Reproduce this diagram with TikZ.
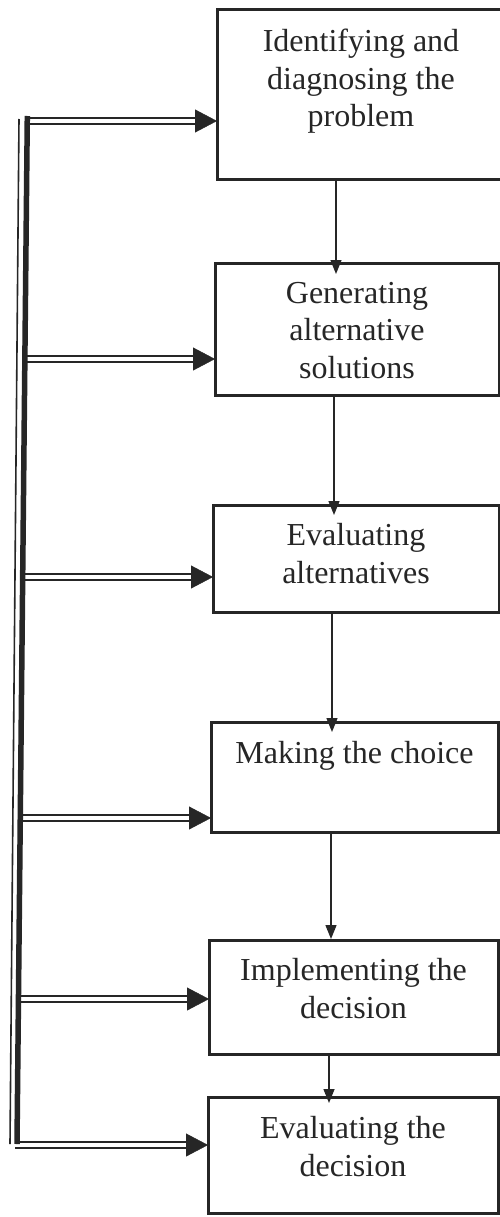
\documentclass[tikz,border=0pt]{standalone}
\usepackage{fontspec}
\setmainfont{Liberation Serif}
\usetikzlibrary{arrows.meta,calc}
\definecolor{ink}{gray}{0.15}
\begin{document}
\begin{tikzpicture}[x=1pt,y=-1pt,
  box/.style={draw=ink, line width=3pt, inner sep=0pt, outer sep=0pt},
  txt/.style={text=ink, font=\fontsize{32}{37.5}\selectfont, align=center, inner sep=0pt},
  varrow/.style={draw=ink, line width=1.4pt, -{Triangle[length=14pt,width=11pt]}},
  dbl/.style={draw=ink, double=white, double distance=3.5pt, line width=1.9pt},
  tipar/.style={draw=ink, fill=ink, line width=0.4pt, -{Triangle[length=22pt,width=23pt]}},
  spinethin/.style={draw=ink, line width=1.6pt},
  spinethick/.style={draw=ink, line width=5.5pt}]
\useasboundingbox (0,0) rectangle (499,1217);
\fill[white] (0,0) rectangle (499,1217);
% boxes
\node[box, minimum width=286pt, minimum height=170pt] (b1) at (360,95) {};
\node[box, minimum width=284pt, minimum height=132pt] (b2) at (357,329) {};
\node[box, minimum width=286pt, minimum height=107pt] (b3) at (356,558.5) {};
\node[box, minimum width=287pt, minimum height=110pt] (b4) at (354.5,777) {};
\node[box, minimum width=289pt, minimum height=114pt] (b5) at (353.5,997) {};
\node[box, minimum width=290pt, minimum height=116pt] (b6) at (353,1155) {};
% texts (base = baseline of the last line)
\node[txt, anchor=base] (t1) at ($(b1.north)+(1,117)$) {Identifying and\\diagnosing the\\problem};
\node[txt, anchor=base] (t2) at ($(b2.north)+(0,115)$) {Generating\\alternative\\solutions};
\node[txt, anchor=base] (t3) at ($(b3.north)+(0,78)$) {Evaluating\\alternatives};
\node[txt, anchor=base] (t4) at ($(b4.north)+(0,41)$) {Making the choice};
\node[txt, anchor=base] (t5) at ($(b5.north)+(0,78)$) {Implementing the\\decision};
\node[txt, anchor=base] (t6) at ($(b6.north)+(0,79)$) {Evaluating the\\decision};
% vertical arrows
\coordinate (v1) at (336,0);
\coordinate (v2) at (334,0);
\coordinate (v3) at (332,0);
\coordinate (v4) at (331,0);
\coordinate (v5) at (329,0);
\draw[varrow, shorten >=-11pt] (b1.south -| v1) -- (b2.north -| v1);
\draw[varrow, shorten >=-10pt] (b2.south -| v2) -- (b3.north -| v2);
\draw[varrow, shorten >=-10pt] (b3.south -| v3) -- (b4.north -| v3);
\draw[varrow, shorten >=1pt] (b4.south -| v4) -- (b5.north -| v4);
\draw[varrow, shorten >=-6pt] (b5.south -| v5) -- (b6.north -| v5);
% feedback branches
\coordinate (h1) at (27,121);
\coordinate (h2) at (24.6,359);
\coordinate (h3) at (22.4,577);
\coordinate (h4) at (20,818);
\coordinate (h5) at (18.2,999);
\coordinate (h6) at (15,1145);
\foreach \h/\b in {h1/b1,h2/b2,h3/b3,h4/b4,h5/b5,h6/b6}{
  \draw[dbl] (\h) -- ($(\b.west |- \h)+(-20,0)$);
  \draw[tipar] ($(\b.west |- \h)+(-22,0)$) -- (\b.west |- \h);
}
% spine
\coordinate (st1) at (19,119);
\coordinate (sb1) at (10,1144);
\coordinate (st2) at (27.3,116);
\coordinate (sb2) at (17,1144);
\draw[spinethin] (st1) -- (sb1);
\draw[spinethick] (st2) -- (sb2);
\end{tikzpicture}
\end{document}
